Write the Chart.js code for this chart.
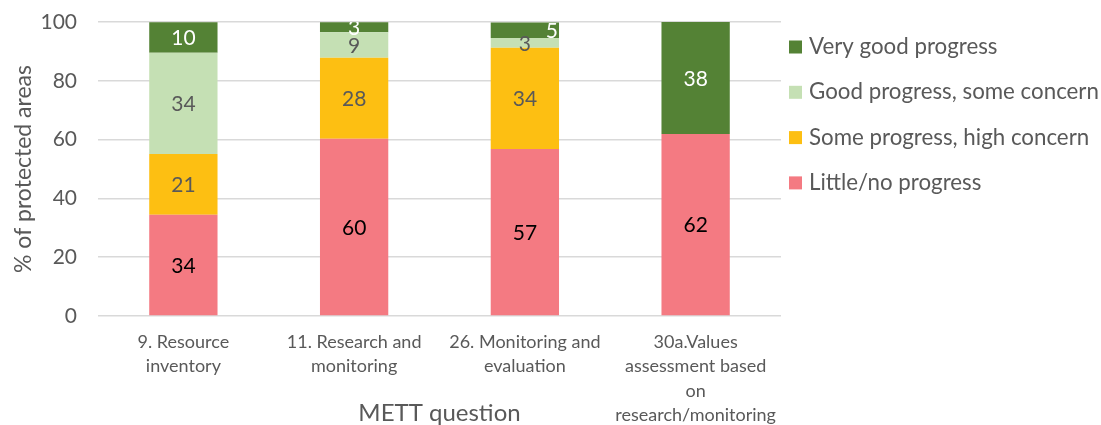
<!DOCTYPE html>
<html>
<head>
<meta charset="utf-8">
<script src="https://cdn.jsdelivr.net/npm/chart.js@4"></script>
<style>
    html, body { margin: 0; padding: 0; background: #fff; }
    #wrap { width: 1101px; height: 425px; position: relative; }
</style>
</head>
<body>
<div id="wrap"><canvas id="mett-chart"></canvas></div>
<script>
// Chart data
const categories = [
    ['9. Resource', 'inventory'],
    ['11. Research and', 'monitoring'],
    ['26. Monitoring and', 'evaluation'],
    ['30a.Values', 'assessment based', 'on', 'research/monitoring']
];
const seriesNames = ['Little/no progress', 'Some progress, high concern', 'Good progress, some concern', 'Very good progress'];
const littleProgress = [34.4, 60.3, 56.8, 61.9];
const someProgress = [20.7, 27.5, 34.4, 0];
const goodProgress = [34.4, 8.7, 3.4, 0];
const veryGoodProgress = [10.4, 3.4, 5.2, 38.1];
const yTicks = [0, 20, 40, 60, 80, 100];

const barColors = ['#F47A82', '#FDBF12', '#C5E0B4', '#548235'];
const labelColors = ['#000000', '#595959', '#595959', '#FFFFFF'];
const grey = '#595959';
const fontFamily = 'Lato, "Open Sans", sans-serif';

document.addEventListener('DOMContentLoaded', function() {
    const seriesValues = [littleProgress, someProgress, goodProgress, veryGoodProgress];

    // Value labels drawn in the middle of each segment
    const segmentLabels = {
        id: 'segmentLabels',
        afterDatasetsDraw(chart) {
            const ctx = chart.ctx;
            const area = chart.chartArea;
            ctx.save();
            ctx.beginPath();
            ctx.rect(area.left, area.top, area.right - area.left, area.bottom - area.top);
            ctx.clip();
            ctx.font = '21px ' + fontFamily;
            ctx.textAlign = 'center';
            ctx.textBaseline = 'middle';
            chart.data.datasets.forEach((ds, di) => {
                chart.getDatasetMeta(di).data.forEach((bar, i) => {
                    const v = ds.data[i];
                    if (!v) return;
                    let x = bar.x;
                    // Excel nudged this small label to the right
                    if (di === 3 && i === 2) x += 27;
                    const y = (bar.y + bar.base) / 2 + 1;
                    ctx.fillStyle = labelColors[di];
                    ctx.fillText(Math.round(v), x, y);
                });
            });
            ctx.restore();
        }
    };

    // Legend on the right, top item first
    const sideLegend = {
        id: 'sideLegend',
        afterDraw(chart) {
            const ctx = chart.ctx;
            const left = chart.chartArea.right + 8;
            ctx.save();
            ctx.font = '22.3px ' + fontFamily;
            ctx.textBaseline = 'middle';
            ctx.textAlign = 'left';
            const order = chart.data.datasets.map((d, i) => i).reverse();
            order.forEach((di, row) => {
                const ds = chart.data.datasets[di];
                const cy = 47 + row * 45.3;
                ctx.fillStyle = ds.backgroundColor;
                ctx.fillRect(left, cy - 6.5, 13, 13);
                ctx.fillStyle = grey;
                ctx.fillText(ds.label, left + 20, cy);
            });
            ctx.restore();
        }
    };

    new Chart(document.getElementById('mett-chart').getContext('2d'), {
        type: 'bar',
        data: {
            labels: categories,
            datasets: seriesValues.map((vals, i) => ({
                label: seriesNames[i],
                data: vals,
                backgroundColor: barColors[i],
                borderWidth: 0,
                barPercentage: 0.4,
                categoryPercentage: 1
            }))
        },
        options: {
            responsive: true,
            maintainAspectRatio: false,
            animation: false,
            layout: { padding: { top: 22, right: 320, left: 0, bottom: 0 } },
            plugins: {
                legend: { display: false },
                tooltip: { enabled: false }
            },
            scales: {
                x: {
                    stacked: true,
                    grid: { display: false },
                    border: { display: false },
                    ticks: {
                        color: grey,
                        font: { family: fontFamily, size: 18, lineHeight: 1.35 },
                        padding: 6,
                        maxRotation: 0,
                        autoSkip: false
                    },
                    title: {
                        display: true,
                        text: 'METT question',
                        color: grey,
                        font: { family: fontFamily, size: 24 },
                        padding: { top: 0, bottom: -3 }
                    },
                    afterFit(scale) { scale.height = 109; }
                },
                y: {
                    stacked: true,
                    min: 0,
                    max: 100,
                    afterBuildTicks(scale) { scale.ticks = yTicks.map(v => ({ value: v })); },
                    grid: { color: '#D9D9D9', lineWidth: 1.5, drawTicks: false },
                    border: { display: false },
                    ticks: {
                        color: grey,
                        font: { family: fontFamily, size: 21 },
                        padding: 21
                    },
                    title: {
                        display: true,
                        text: '% of protected areas',
                        color: grey,
                        font: { family: fontFamily, size: 23 },
                        padding: { top: 10, bottom: 0 }
                    },
                    afterFit(scale) {
                        scale.width = 98;
                        scale.paddingTop = 0;
                    }
                }
            }
        },
        plugins: [segmentLabels, sideLegend]
    });
});
</script>
</body>
</html>
